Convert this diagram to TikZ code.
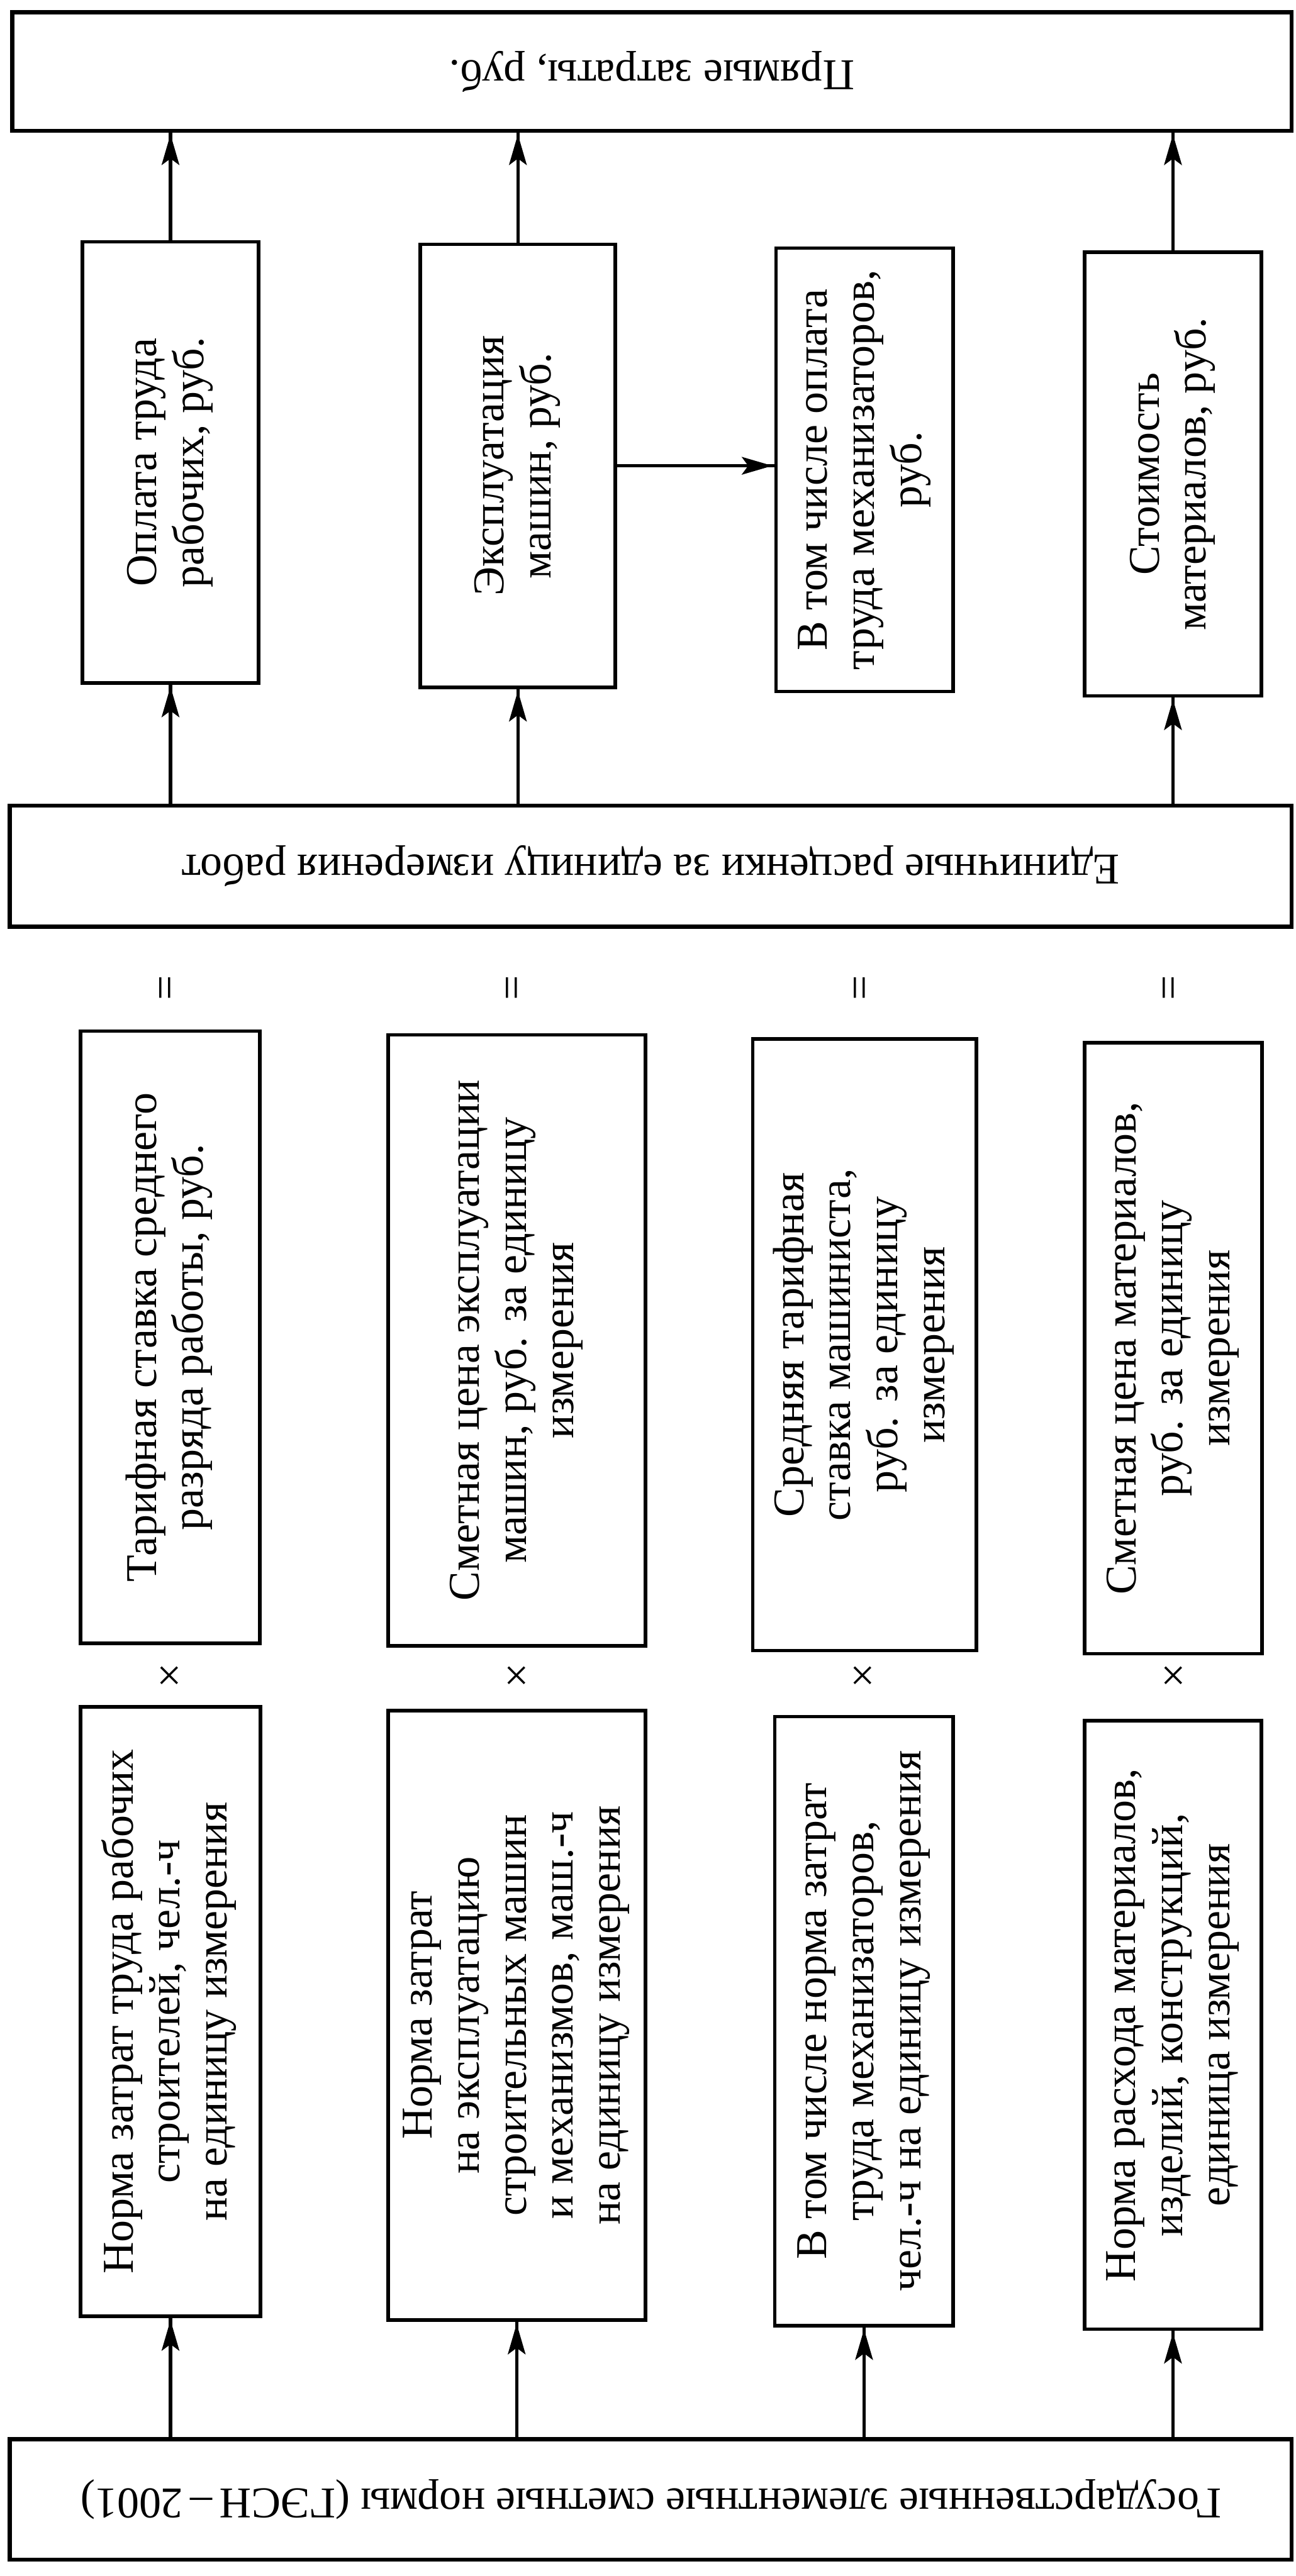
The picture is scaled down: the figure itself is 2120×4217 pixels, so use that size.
\documentclass[tikz,border=0pt]{standalone}
\usepackage{fontspec}
\setmainfont{Liberation Serif}
\usepackage{graphicx}
\usetikzlibrary{arrows.meta,decorations.markings}

% text set bottom-to-top inside the tall boxes
\newcommand\uptext[1]{\rotatebox{90}{\begin{tabular}{@{}c@{}}#1\end{tabular}}}
% text turned upside down inside the wide bands
\newcommand\fliptext[1]{\rotatebox{180}{#1}}

\tikzset{
  frame/.style={draw, line width=1.45pt, inner sep=0pt, outer sep=0pt,
    font=\fontsize{18}{19.25}\selectfont},
  band/.style={frame, line width=1.6pt},
  arr/.style={line width=1.3pt, postaction={decorate},
    decoration={markings, mark=at position -1.5pt with
      {\arrow{Stealth[length=12.5pt,width=7.2pt,inset=2.6pt]}}}},
  sign/.style={inner sep=0pt, font=\fontsize{18}{19.25}\selectfont}
}

\begin{document}
\begin{tikzpicture}[x=0.25pt,y=-0.25pt]
\useasboundingbox (0,0) rectangle (2120,4217);

% top band
\node[band, minimum width=523.5pt, minimum height=48.5pt] (T) at (1067,117)
  {\fliptext{Прямые затраты, руб.}};

% first row: cost items
\node[frame, minimum width=72pt, minimum height=180.5pt] (A1) at (279,757)
  {\uptext{Оплата труда\\рабочих, руб.}};
\node[frame, minimum width=79.75pt, minimum height=181.25pt] (B1) at (847.5,762.5)
  {\uptext{Эксплуатация\\машин, руб.}};
\node[frame, minimum width=72.5pt, minimum height=181.5pt] (C1) at (1415,769)
  {\uptext{В том числе оплата\\труда механизаторов,\\руб.}};
\node[frame, minimum width=72.25pt, minimum height=181.5pt] (D1) at (1919.5,776)
  {\uptext{Стоимость\\материалов, руб.}};

% middle band
\node[band, minimum width=524.5pt, minimum height=49.5pt] (E) at (1065,1418)
  {\fliptext{Единичные расценки за единицу измерения работ}};

% equals signs
\node[sign] (eqA) at (277,1617) {\rotatebox{90}{=}};
\node[sign] (eqB) at (845,1617) {\rotatebox{90}{=}};
\node[sign] (eqC) at (1414,1617) {\rotatebox{90}{=}};
\node[sign] (eqD) at (1920,1617) {\rotatebox{90}{=}};

% second row: prices and rates
\node[frame, minimum width=73.25pt, minimum height=250.5pt] (A2) at (278.5,2189)
  {\uptext{Тарифная ставка среднего\\разряда работы, руб.}};
\node[frame, minimum width=105.25pt, minimum height=250pt] (B2) at (845.5,2194)
  {\uptext{Сметная цена эксплуатации\\машин, руб. за единицу\\измерения}};
\node[frame, minimum width=91.5pt, minimum height=250.25pt] (C2) at (1415,2201.5)
  {\uptext{Средняя тарифная\\ставка машиниста,\\руб. за единицу\\измерения}};
\node[frame, minimum width=72.5pt, minimum height=250pt] (D2) at (1920,2207)
  {\uptext{Сметная цена материалов,\\руб. за единицу\\измерения}};

% multiplication signs
\node[sign] (mulA) at (277,2748) {×};
\node[sign] (mulB) at (845,2748) {×};
\node[sign] (mulC) at (1412,2748) {×};
\node[sign] (mulD) at (1920,2748) {×};

% third row: norms
\node[frame, minimum width=73.5pt, minimum height=249.5pt] (A3) at (279,3293)
  {\uptext{Норма затрат труда рабочих\\строителей, чел.-ч\\на единицу измерения}};
\node[frame, minimum width=105.25pt, minimum height=249.5pt] (B3) at (845.5,3299)
  {\uptext{Норма затрат\\на эксплуатацию\\строительных машин\\и механизмов, маш.-ч\\на единицу измерения}};
\node[frame, minimum width=73pt, minimum height=249.25pt] (C3) at (1414,3308.5)
  {\uptext{В том числе норма затрат\\труда механизаторов,\\чел.-ч на единицу измерения}};
\node[frame, minimum width=72.25pt, minimum height=249pt] (D3) at (1919.5,3315)
  {\uptext{Норма расхода материалов,\\изделий, конструкций,\\единица измерения}};

% bottom band
\node[band, minimum width=524.5pt, minimum height=49.25pt] (G) at (1065,4091.5)
  {\fliptext{Государственные элементные сметные нормы (ГЭСН\,–\,2001)}};

% connectors: bottom band to norms
\draw[arr] (A3.south |- G.north) -- (A3.south);
\draw[arr] (B3.south |- G.north) -- (B3.south);
\draw[arr] (C3.south |- G.north) -- (C3.south);
\draw[arr] (D3.south |- G.north) -- (D3.south);

% connectors: middle band to cost items
\draw[arr] (A1.south |- E.north) -- (A1.south);
\draw[arr] (B1.south |- E.north) -- (B1.south);
\draw[arr] (D1.south |- E.north) -- (D1.south);

% machine operation includes operators' wages
\draw[arr] (B1.east) -- (C1.west |- B1.east);

% connectors: cost items to top band
\draw[arr] (A1.north) -- (A1.north |- T.south);
\draw[arr] (B1.north) -- (B1.north |- T.south);
\draw[arr] (D1.north) -- (D1.north |- T.south);
\end{tikzpicture}
\end{document}
